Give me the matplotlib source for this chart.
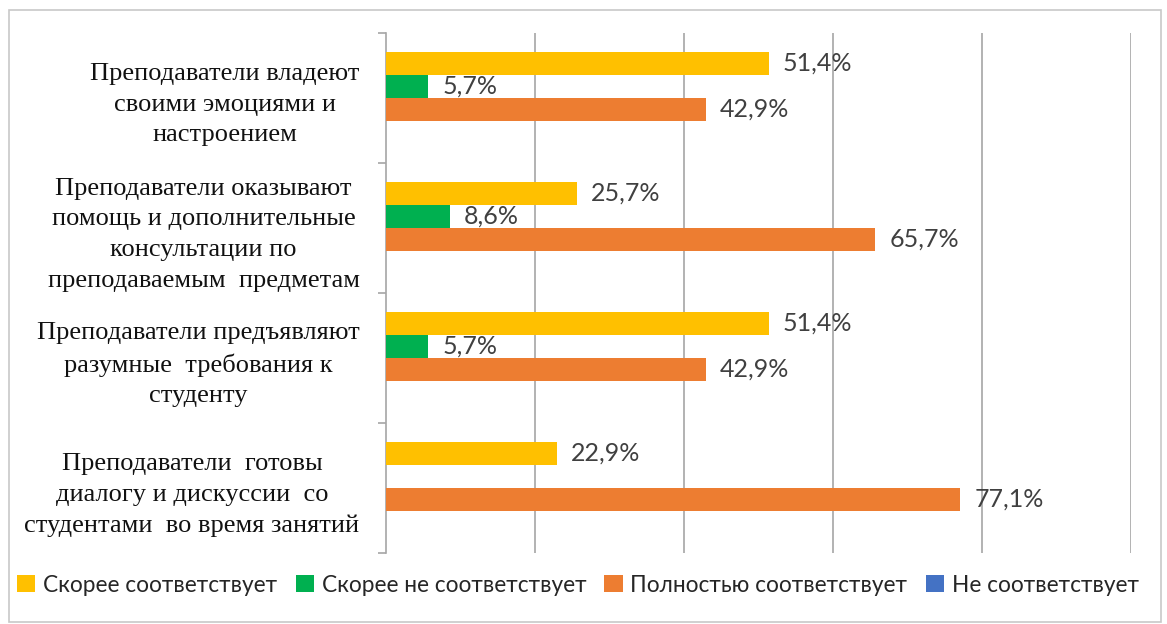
import matplotlib
matplotlib.use("Agg")
import matplotlib.pyplot as plt
import numpy as np
from matplotlib.patches import Rectangle

categories = [
    "Преподаватели владеют\nсвоими эмоциями и\nнастроением",
    "Преподаватели оказывают\nпомощь и дополнительные\nконсультации по\nпреподаваемым  предметам",
    "Преподаватели предъявляют\nразумные  требования к\nстуденту",
    "Преподаватели  готовы\nдиалогу и дискуссии  со\nстудентами  во время занятий",
]
series_names = ["Скорее соответствует", "Скорее не соответствует",
                "Полностью соответствует", "Не соответствует"]
skoree_sootv = [51.4, 25.7, 51.4, 22.9]
skoree_ne_sootv = [5.7, 8.6, 5.7, 0.0]
polnostyu_sootv = [42.9, 65.7, 42.9, 77.1]
ne_sootv = [0.0, 0.0, 0.0, 0.0]
series_values = [skoree_sootv, skoree_ne_sootv, polnostyu_sootv, ne_sootv]
colors = ["#FFC000", "#00B050", "#ED7D31", "#4472C4"]

W, H = 1167, 624
fig = plt.figure(figsize=(W / 100, H / 100), dpi=100)
fig.patch.set_facecolor("white")

# outer border
fig.add_artist(Rectangle((9 / W, 2 / H), 1152 / W, 612 / H, transform=fig.transFigure,
                         fill=False, edgecolor="#c8c8c8", linewidth=1.2))

left, right, top, bottom = 386, 1131, 33, 553
ax = fig.add_axes([left / W, 1 - bottom / H, (right - left) / W, (bottom - top) / H])

n = len(categories)
y = np.arange(n)
h = 23 / 130

for i, (name, vals, c) in enumerate(zip(series_names, series_values, colors)):
    off = (i - 1.5) * h
    bars = ax.barh(y + off, vals, height=h, color=c, label=name, zorder=3)
    for b, v in zip(bars, vals):
        if v > 0:
            ax.annotate(f"{v:.1f}%".replace(".", ","),
                        xy=(v, b.get_y() + b.get_height() / 2),
                        xytext=(10, 0), textcoords="offset points",
                        ha="left", va="center", fontsize=18, color="#404040",
                        family=["Lato", "DejaVu Sans"], zorder=4)

ax.set_xlim(0, 100)
ax.set_ylim(n - 0.5, -0.5)
ax.set_xticks([20, 40, 60, 80, 100])
ax.tick_params(axis="x", length=0, labelbottom=False)
ax.grid(axis="x", color="#a6a6a6", linewidth=1.2, zorder=0)

ax.set_yticks(y)
ax.set_yticklabels(categories, fontsize=19, family="Liberation Serif",
                   multialignment="center", color="#111111", linespacing=1.5)
ax.set_yticks(np.arange(n + 1) - 0.5, minor=True)
ax.tick_params(axis="y", which="major", length=0, pad=19)
ax.tick_params(axis="y", which="minor", length=6, color="#a6a6a6", width=1.2)

for s in ["top", "right", "bottom"]:
    ax.spines[s].set_visible(False)
ax.spines["left"].set_color("#a6a6a6")
ax.spines["left"].set_linewidth(1.2)

leg = fig.legend(loc="center", bbox_to_anchor=(578 / W, 1 - 585 / H), ncol=4,
                 frameon=False, handlelength=0.8, handleheight=0.8,
                 handletextpad=0.35, columnspacing=0.8,
                 prop={"family": ["Lato", "DejaVu Sans"], "size": 16.3})
for t in leg.get_texts():
    t.set_color("#262626")

fig.savefig("out.png", dpi=100)
